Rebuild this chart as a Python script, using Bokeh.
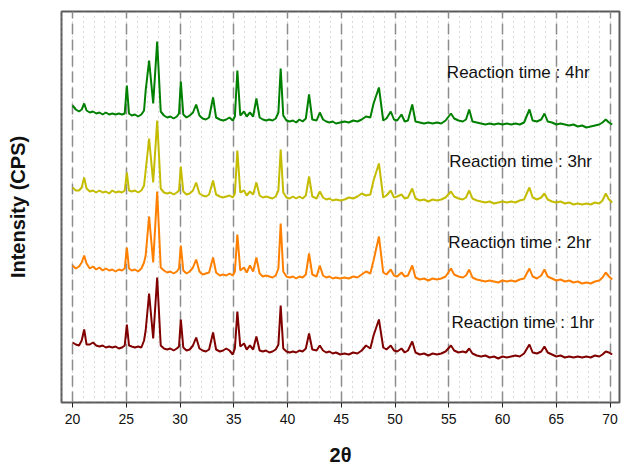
from bokeh.plotting import figure
from bokeh.models import Range1d, SingleIntervalTicker, ColumnDataSource
from bokeh.core.properties import value
from bokeh.embed import file_html
from bokeh.resources import INLINE

# 2-theta sample positions (degrees)
two_theta = [20.0, 20.3, 20.6, 20.85, 21.08, 21.3, 21.6, 21.9, 22.2, 22.5, 22.8, 23.1, 23.4, 23.7, 24.0, 24.3, 24.6, 24.85, 25.05, 25.25,
             25.5, 25.8, 26.1, 26.4, 26.65, 26.8, 27.12, 27.5, 27.87, 28.2,
             28.5, 28.8, 29.1, 29.4, 29.7, 29.9, 30.07, 30.3, 30.6, 30.9,
             31.2, 31.5, 31.8, 32.1, 32.4, 32.7, 33.07, 33.35, 33.7, 34.0,
             34.3, 34.6, 34.9, 35.1, 35.33, 35.6, 35.95, 36.2, 36.5, 36.8,
             37.1, 37.4, 37.7, 38.0, 38.3, 38.6, 38.9, 39.15, 39.36, 39.6,
             39.9, 40.2, 40.5, 40.8, 41.1, 41.4, 41.7, 42.0, 42.3, 42.7,
             43.0, 43.3, 43.6, 43.9, 44.2, 44.5, 44.9, 45.3, 45.7, 46.1,
             46.5, 46.9, 47.3, 47.7, 48.0, 48.5, 48.9, 49.2, 49.6, 49.9,
             50.2, 50.6, 50.9, 51.2, 51.6, 51.9, 52.3, 52.7, 53.1, 53.5,
             53.9, 54.3, 54.7, 55.2, 55.5, 55.9, 56.3, 56.6, 56.9, 57.2,
             57.6, 58.0, 58.4, 58.8, 59.2, 59.6, 60.0, 60.4, 60.8, 61.2,
             61.6, 62.0, 62.5, 62.8, 63.2, 63.6, 63.9, 64.2, 64.6, 65.0,
             65.4, 65.8, 66.2, 66.6, 67.0, 67.4, 67.8, 68.2, 68.6, 69.0,
             69.3, 69.6, 69.9, 70.2]

# intensities (offset, arbitrary units) for each reaction time
int_4hr = [297, 293, 291, 293, 299, 292, 290, 291, 289, 290, 288, 290, 288, 289, 288, 289, 288, 289, 317, 289,
           287, 288, 286, 288, 292, 312, 342, 299, 361, 291,
           287, 285, 286, 284, 286, 289, 321, 288, 285, 287,
           290, 298, 287, 284, 283, 285, 305, 285, 283, 282,
           283, 285, 282, 286, 332, 287, 291, 286, 290, 286,
           304, 285, 283, 282, 283, 282, 284, 290, 334, 287,
           282, 281, 282, 280, 283, 281, 284, 308, 283, 282,
           290, 283, 281, 280, 281, 279, 280, 281, 280, 282,
           281, 283, 286, 285, 299, 315, 282, 284, 291, 283,
           282, 288, 281, 282, 298, 281, 280, 279, 280, 279,
           280, 279, 282, 289, 284, 282, 281, 283, 293, 281,
           280, 279, 278, 279, 278, 279, 278, 279, 278, 279,
           278, 280, 293, 282, 281, 283, 289, 281, 280, 278,
           279, 278, 277, 278, 276, 277, 275, 276, 277, 278,
           280, 283, 280, 278]

int_3hr = [215, 212, 212, 215, 225, 214, 211, 212, 210, 212, 210, 211, 209, 212, 210, 211, 210, 212, 230, 212,
           211, 212, 210, 212, 217, 232, 264, 220, 282, 214,
           210, 209, 210, 208, 210, 212, 236, 211, 208, 209,
           212, 220, 209, 207, 206, 208, 222, 208, 206, 205,
           206, 207, 205, 209, 252, 210, 212, 207, 211, 208,
           220, 207, 205, 206, 205, 204, 206, 212, 253, 210,
           205, 204, 206, 204, 206, 204, 207, 226, 206, 204,
           211, 205, 203, 204, 202, 203, 202, 203, 205, 204,
           206, 209, 207, 208, 222, 239, 205, 207, 212, 205,
           206, 208, 204, 205, 214, 204, 202, 203, 201, 203,
           202, 203, 205, 211, 206, 204, 203, 205, 212, 204,
           202, 201, 200, 201, 199, 200, 201, 200, 201, 200,
           202, 203, 215, 205, 203, 205, 209, 203, 201, 200,
           201, 199, 200, 198, 199, 198, 199, 198, 200, 199,
           202, 209, 203, 200]

int_2hr = [137, 134, 136, 140, 147, 139, 134, 136, 133, 135, 132, 134, 132, 133, 131, 133, 132, 134, 155, 134,
           132, 133, 131, 134, 140, 147, 186, 140, 211, 135,
           132, 130, 131, 129, 131, 134, 157, 132, 129, 131,
           135, 143, 131, 128, 129, 130, 145, 130, 127, 128,
           127, 129, 127, 131, 168, 132, 135, 130, 137, 131,
           145, 129, 126, 127, 126, 125, 127, 134, 179, 131,
           126, 125, 126, 124, 126, 125, 128, 149, 128, 126,
           137, 127, 125, 126, 124, 125, 124, 125, 124, 126,
           125, 128, 131, 129, 142, 166, 130, 128, 133, 127,
           126, 130, 126, 127, 137, 125, 123, 124, 122, 124,
           123, 124, 126, 134, 128, 126, 125, 127, 133, 125,
           123, 122, 121, 122, 121, 120, 122, 121, 122, 121,
           123, 124, 134, 126, 124, 127, 133, 126, 124, 122,
           123, 121, 122, 120, 121, 119, 120, 119, 121, 122,
           125, 130, 126, 123]

int_1hr = [60, 58, 57, 62, 73, 58, 58, 60, 57, 56, 57, 55, 56, 55, 56, 54, 55, 57, 78, 57,
           56, 55, 56, 55, 62, 72, 109, 64, 125, 57,
           54, 53, 54, 52, 54, 56, 83, 55, 52, 53,
           57, 65, 54, 52, 51, 53, 70, 53, 51, 52,
           54, 52, 48, 54, 91, 56, 59, 53, 57, 53,
           66, 52, 51, 52, 50, 51, 53, 58, 97, 54,
           51, 50, 51, 50, 52, 51, 54, 69, 53, 52,
           57, 52, 50, 51, 49, 50, 48, 49, 48, 50,
           49, 52, 57, 54, 67, 83, 55, 53, 57, 52,
           51, 54, 50, 52, 61, 50, 48, 49, 47, 49,
           48, 49, 51, 57, 52, 50, 51, 50, 54, 49,
           47, 46, 47, 45, 46, 44, 46, 45, 46, 47,
           46, 49, 58, 50, 49, 51, 56, 50, 48, 46,
           47, 45, 46, 45, 46, 45, 46, 45, 47, 46,
           48, 51, 50, 48]

series_labels = ["Reaction time : 4hr", "Reaction time : 3hr", "Reaction time : 2hr", "Reaction time : 1hr"]
x_title = "2θ"
y_title = "Intensity (CPS)"

# styles / layout
colors = ["#008000", "#c4bc00", "#ff8000", "#800000"]
label_x = [54.82, 55.05, 54.96, 55.26]
label_y = [330.0, 241.0, 160.5, 80.0]

FONT = "Liberation Sans"

p = figure(width=621, height=469,
           x_range=Range1d(18.97, 70.88), y_range=Range1d(0, 391),
           output_backend="svg", toolbar_location=None,
           min_border_left=61, min_border_right=2, min_border_top=11, min_border_bottom=67)

p.background_fill_color = "white"
p.border_fill_color = "white"
p.outline_line_color = "#5a5a5a"
p.outline_line_width = 2
p.outline_line_alpha = 1

# x axis
p.xaxis.ticker = SingleIntervalTicker(interval=5, num_minor_ticks=5)
p.xaxis.axis_line_color = None
p.xaxis.major_tick_line_color = "#222222"
p.xaxis.major_tick_out = 5
p.xaxis.major_tick_in = 0
p.xaxis.minor_tick_line_color = None
p.xaxis.major_label_text_font = FONT
p.xaxis.major_label_text_font_size = "14px"
p.xaxis.major_label_text_color = "#111111"
p.xaxis.major_label_standoff = 6
p.xaxis.axis_label = x_title
p.xaxis.axis_label_text_font = FONT
p.xaxis.axis_label_text_font_style = "bold"
p.xaxis.axis_label_text_font_size = "20px"
p.xaxis.axis_label_text_color = "#111111"
p.xaxis.axis_label_standoff = 17

# y axis (label only)
p.yaxis.ticker = []
p.yaxis.axis_line_color = None
p.yaxis.major_tick_line_color = None
p.yaxis.minor_tick_line_color = None
p.yaxis.axis_label = y_title
p.yaxis.axis_label_text_font = FONT
p.yaxis.axis_label_text_font_style = "bold"
p.yaxis.axis_label_text_font_size = "20px"
p.yaxis.axis_label_text_color = "#111111"
p.yaxis.axis_label_standoff = 33

# grids
p.ygrid.visible = False
p.xgrid.grid_line_color = "#8c8c8c"
p.xgrid.grid_line_width = 1.5
p.xgrid.grid_line_dash = "11 5"
p.xgrid.minor_grid_line_color = "#b4b4b4"
p.xgrid.minor_grid_line_width = 1
p.xgrid.minor_grid_line_dash = "1 4"

series = [int_4hr, int_3hr, int_2hr, int_1hr]
for vals, col in zip(series, colors):
    src = ColumnDataSource(dict(x=two_theta, y=vals))
    p.line("x", "y", source=src, line_color=col, line_width=2)

lab_src = ColumnDataSource(dict(x=label_x, y=label_y, t=series_labels))
p.text("x", "y", text="t", source=lab_src, text_font=value(FONT), text_font_size="17px",
       text_color="#111111", text_baseline="alphabetic", text_align="left")

open("out.html", "w").write(file_html(p, INLINE))
